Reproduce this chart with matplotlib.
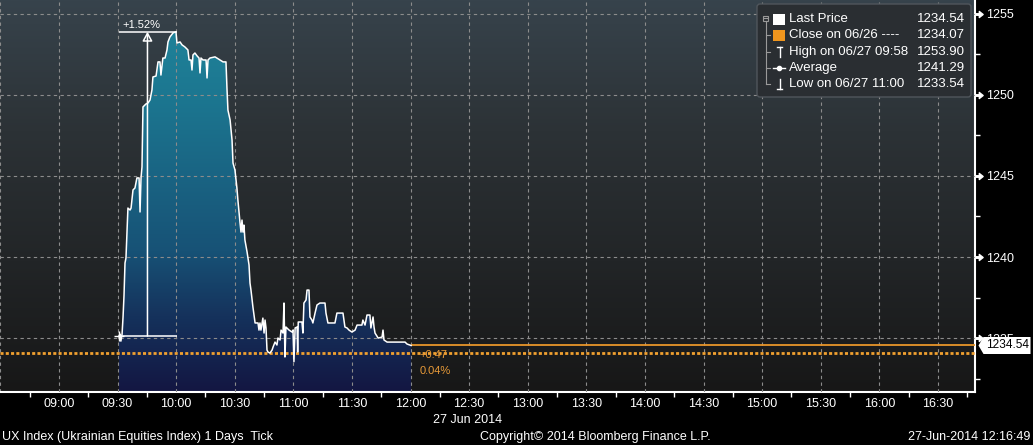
import numpy as np
import matplotlib
matplotlib.use('Agg')
import matplotlib.pyplot as plt
from matplotlib.colors import LinearSegmentedColormap
from matplotlib.patches import PathPatch, FancyBboxPatch, Rectangle
from matplotlib.path import Path
from matplotlib.markers import MarkerStyle
import matplotlib.transforms as mtransforms

plt.rcParams['font.family'] = ['Liberation Sans', 'DejaVu Sans']

# ---------------- data ----------------
# minutes after 09:00 on 27 Jun 2014
times_min = [30.7, 31.2, 31.7, 32.3, 32.8, 33.3, 33.8, 34.3, 35.3, 36.4, 36.9, 37.9, 38.9, 39.9,
             41.0, 41.5, 42.0, 42.5, 43.0, 44.5, 45.6, 46.6, 47.6, 48.1, 49.7, 50.7, 51.7, 52.2,
             52.7, 53.2, 54.3, 55.3, 55.8, 56.8, 58.4, 59.9, 60.4, 62.0, 63.0, 64.5, 66.0, 66.6,
             67.6, 68.1, 68.6, 69.6, 70.7, 71.7, 72.2, 72.7, 73.7, 75.3, 75.8, 76.3, 77.3, 79.9,
             82.4, 84.0, 85.5, 86.0, 86.5, 87.6, 88.6, 89.1, 90.1, 91.1, 91.6, 92.7, 93.2, 93.7,
             94.2, 94.7, 95.2, 96.3, 97.3, 97.8, 98.3, 99.3, 100.4, 101.9, 102.4, 102.9, 103.4,
             104.4, 105.0, 105.5, 106.0, 106.5, 107.0, 108.0, 109.1, 109.6, 110.6, 111.6, 112.1,
             113.2, 113.7, 114.7, 115.2, 115.7, 116.2, 117.8, 119.3, 119.8, 120.3, 120.9, 121.9,
             122.2, 122.5, 124.4, 124.9, 125.4, 126.5, 127.0, 128.0, 128.5, 129.5, 130.0, 131.1,
             132.1, 133.6, 136.2, 136.7, 137.7, 141.3, 142.3, 145.4, 146.4, 147.5, 148.5, 150.0,
             151.6, 152.6, 155.1, 155.6, 156.7, 157.7, 159.2, 159.7, 160.8, 161.3, 161.8, 163.4,
             165.4, 165.9, 166.4, 168.0, 177.2, 178.2, 180.3]
prices = [1235.12, 1235.25, 1234.81, 1235.25, 1236.30, 1237.65, 1239.63, 1239.94, 1243.02, 1242.90,
          1243.02, 1244.14, 1244.26, 1244.88, 1244.88, 1242.78, 1244.88, 1245.56, 1249.26, 1249.44,
          1249.51, 1249.69, 1250.31, 1251.11, 1251.17, 1252.04, 1252.04, 1251.23, 1251.73, 1252.28,
          1252.28, 1252.78, 1253.27, 1253.58, 1253.83, 1253.90, 1253.21, 1253.27, 1253.09, 1252.96,
          1252.78, 1252.16, 1252.16, 1251.54, 1252.47, 1252.59, 1252.41, 1252.28, 1251.36, 1252.28,
          1252.16, 1252.16, 1251.05, 1252.16, 1252.28, 1252.35, 1252.16, 1252.04, 1252.04, 1250.43,
          1249.07, 1248.46, 1247.22, 1245.80, 1245.37, 1244.26, 1243.52, 1242.10, 1241.54, 1242.28,
          1241.54, 1241.97, 1241.05, 1240.31, 1239.51, 1238.39, 1237.96, 1236.91, 1235.93, 1235.93,
          1235.49, 1235.93, 1235.49, 1236.23, 1235.31, 1236.11, 1235.62, 1234.26, 1234.14, 1234.07,
          1234.26, 1234.44, 1234.75, 1234.57, 1235.00, 1234.88, 1235.49, 1235.31, 1237.16, 1233.83,
          1235.68, 1235.49, 1235.37, 1235.49, 1233.54, 1235.62, 1235.68, 1234.14, 1235.99, 1235.99,
          1235.31, 1237.16, 1237.35, 1237.96, 1237.96, 1236.30, 1236.11, 1235.93, 1236.54, 1237.04,
          1237.16, 1237.16, 1236.54, 1235.93, 1235.93, 1236.54, 1236.54, 1235.68, 1235.62, 1235.49,
          1235.37, 1235.49, 1235.80, 1235.80, 1236.11, 1235.80, 1236.42, 1236.42, 1235.62, 1236.30,
          1235.68, 1235.31, 1235.00, 1235.06, 1235.49, 1234.88, 1234.75, 1234.75, 1234.63, 1234.54]

close_price = 1234.07
last_price = 1234.54
high_price = 1253.90
low_price = 1233.54
avg_price = 1241.29

x_tick_minutes = list(range(0, 451, 30))
x_tick_labels = ['09:00', '09:30', '10:00', '10:30', '11:00', '11:30', '12:00', '12:30',
                 '13:00', '13:30', '14:00', '14:30', '15:00', '15:30', '16:00', '16:30']
x_minor_minutes = list(range(-15, 466, 30))
y_ticks = [1235, 1240, 1245, 1250, 1255]
y_minor = [1232.5, 1237.5, 1242.5, 1247.5, 1252.5]

legend_labels = ['Last Price', 'Close on 06/26 ----', 'High on 06/27 09:58', 'Average', 'Low on 06/27 11:00']
legend_values = [last_price, close_price, high_price, avg_price, low_price]

# ---------------- figure ----------------
W, H = 1033, 445
fig = plt.figure(figsize=(W / 100, H / 100), dpi=100, facecolor='black')
ax = fig.add_axes([0, 53 / H, 975 / W, 392 / H])
ax.set_facecolor('black')
x_min, x_max = -30.2, 469.0
y_min, y_max = 1231.67, 1255.86

# background gradient
bg_cmap = LinearSegmentedColormap.from_list('bg', ['#171717', '#222527', '#2c3236', '#37434c'])
ax.imshow(np.linspace(0, 1, 256).reshape(-1, 1), cmap=bg_cmap, extent=[0, 1, 0, 1],
          transform=ax.transAxes, aspect='auto', origin='lower', zorder=0)

# gradient fill under price
fb = ax.fill_between(times_min, prices, y_min, facecolor='none', edgecolor='none', zorder=1)
clip = PathPatch(fb.get_paths()[0], transform=ax.transData, facecolor='none', edgecolor='none')
ax.add_patch(clip)
fill_cmap = LinearSegmentedColormap.from_list(
    'fill', [(0, '#131642'), (0.21, '#15325c'), (0.39, '#175276'), (0.81, '#1c7690'), (1, '#1f8299')])
im = ax.imshow(np.linspace(0, 1, 256).reshape(-1, 1), cmap=fill_cmap,
               extent=[times_min[0], times_min[-1], y_min, max(prices)],
               aspect='auto', origin='lower', zorder=1)
im.set_clip_path(clip)

# close (dotted) and last price lines
ax.axhline(close_price, color='#f0a030', lw=2, linestyle=(0, (1.1, 0.8)), zorder=2.8)
ax.hlines(last_price, times_min[-1], x_max, color='#e8952a', lw=1.3, zorder=2.8)

# price line
ax.plot(times_min, prices, color='white', lw=1.1, zorder=3)
ax.plot([times_min[0]], [prices[0]], marker='+', color='white', ms=7, mew=1, zorder=3)

# +x% annotation
peak_i = int(np.argmax(prices))
t0, p0 = times_min[0], prices[0]
tp, pp = times_min[peak_i], prices[peak_i]
ax.hlines([p0, pp], t0, tp + 0.6, color='white', lw=1.1, zorder=3.5)
tmid = (t0 + tp) / 2
ax.annotate('', xy=(tmid, pp), xytext=(tmid, p0),
            arrowprops=dict(arrowstyle='-|>,head_length=0.55,head_width=0.3', fc='none', ec='white',
                            lw=1.1, shrinkA=0, shrinkB=0), zorder=3.5)
ax.annotate(f'+{(pp - p0) / p0 * 100:.2f}%', xy=(t0, pp), xytext=(3, 7), textcoords='offset pixels',
            ha='left', va='center', color='white', fontsize=8, zorder=4)

# change labels
chg = last_price - close_price
ax.annotate(f'+{chg:.2f}', xy=(times_min[-1], last_price), xytext=(8, -10), textcoords='offset pixels',
            ha='left', va='center', color='#e89a38', fontsize=8, zorder=4)
ax.annotate(f'{chg / close_price * 100:.2f}%', xy=(times_min[-1], last_price), xytext=(8, -26),
            textcoords='offset pixels', ha='left', va='center', color='#e89a38', fontsize=8, zorder=4)

# axes, ticks, grid
ax.set_xlim(x_min, x_max)
ax.set_ylim(y_min, y_max)
ax.set_xticks(x_tick_minutes)
ax.set_xticklabels(x_tick_labels)
ax.set_xticks(x_minor_minutes, minor=True)
ax.yaxis.tick_right()
ax.set_yticks(y_ticks)
ax.set_yticks(y_minor, minor=True)
ax.set_axisbelow(False)
ax.grid(which='major', color='#8c8c8c', linestyle=(0, (3, 3)), linewidth=0.8)
ax.axvline(-30, color='#8c8c8c', linestyle=(0, (3, 3)), linewidth=0.8, zorder=2.5)
ax.tick_params(axis='x', which='major', length=0, pad=4, labelcolor='white', labelsize=9)
ax.tick_params(axis='x', which='minor', length=3.5, width=1, color='white', direction='out')
ax.tick_params(axis='y', which='major', length=0, pad=8, labelcolor='white', labelsize=9)
ax.tick_params(axis='y', which='minor', length=3.5, width=1, color='white', direction='out')
for s in ['top', 'left']:
    ax.spines[s].set_visible(False)
for s in ['right', 'bottom']:
    ax.spines[s].set_color('white')
    ax.spines[s].set_linewidth(1.5)

ytrans = mtransforms.blended_transform_factory(ax.transAxes, ax.transData)
tick_marker = MarkerStyle(Path([(0, -0.1), (0.5, -0.1), (0.5, -0.4), (1, 0), (0.5, 0.4), (0.5, 0.1),
                                (0, 0.1), (0, -0.1)], closed=True))
ax.plot([1] * len(y_ticks), y_ticks, transform=ytrans, linestyle='none', marker=tick_marker, ms=11,
        color='white', mec='white', clip_on=False, zorder=5)

# last price tag
tag = MarkerStyle(Path([(0, 0), (5, 8.5), (52, 8.5), (52, -8.5), (5, -8.5), (0, 0)], closed=True))
ax.plot([1], [last_price], transform=mtransforms.offset_copy(ytrans, fig=fig, x=3, units='dots'),
        linestyle='none', marker=tag, ms=74.9, color='white', mec='white', mew=0, clip_on=False, zorder=6)
ax.text(1, last_price, f'{last_price:.2f}', transform=mtransforms.offset_copy(ytrans, fig=fig, x=11, units='dots'),
        ha='left', va='center', color='black', fontsize=8.6, clip_on=False, zorder=7)

# legend box
lg = fig.add_axes([756 / W, 1 - 98 / H, 216 / W, 95 / H])
lg.set_xlim(0, 216)
lg.set_ylim(95, 0)
lg.axis('off')
lg.add_patch(FancyBboxPatch((1, 1), 214, 93, boxstyle='round,pad=0,rounding_size=3',
                            fc='#2a2e32', ec='#50565c', lw=1))
row_y = [16, 32, 49, 65, 81]
for lab, val, yy in zip(legend_labels, legend_values, row_y):
    lg.text(33.3, yy, lab, color='white', fontsize=9.5, va='center', ha='left')
    lg.text(209, yy, f'{val:.2f}', color='white', fontsize=9.5, va='center', ha='right')
tree_c = '#9a9a9a'
lg.add_patch(Rectangle((7.3, 12.5), 5, 5, fc='none', ec=tree_c, lw=0.8))
lg.plot([8.3, 11.3], [15, 15], color=tree_c, lw=0.8)
lg.plot([9.8, 9.8], [17.5, row_y[-1]], color=tree_c, lw=0.8)
for yy in row_y[1:]:
    lg.plot([9.8, 14], [yy, yy], color=tree_c, lw=0.8)
lg.add_patch(Rectangle((17.3, row_y[0] - 5.5), 11.7, 11, fc='white', ec='none'))
lg.add_patch(Rectangle((17.3, row_y[1] - 5.5), 11.7, 11, fc='#f0961e', ec='none'))
lg.plot([20.7, 26.3], [row_y[2] - 5, row_y[2] - 5], color='white', lw=1)
lg.plot([23.5, 23.5], [row_y[2] - 5, row_y[2] + 5], color='white', lw=1)
lg.plot([17.3, 29], [row_y[3], row_y[3]], color='white', lw=1)
lg.plot([23.1], [row_y[3]], marker='o', ms=3, color='white')
lg.plot([23.5, 23.5], [row_y[4] - 5, row_y[4] + 5], color='white', lw=1)
lg.plot([20.7, 26.3], [row_y[4] + 5, row_y[4] + 5], color='white', lw=1)

# footer texts
fig.text(468 / W, 1 - 420 / H, '27 Jun 2014', color='white', fontsize=9, ha='center', va='center')
fig.text(2 / W, 1 - 437 / H, 'UX Index (Ukrainian Equities Index) 1 Days  Tick', color='white',
         fontsize=9, ha='left', va='center')
fig.text(595 / W, 1 - 437 / H, 'Copyright\u00a9 2014 Bloomberg Finance L.P.', color='white',
         fontsize=9, ha='center', va='center')
fig.text(1030 / W, 1 - 437 / H, '27-Jun-2014 12:16:49', color='white', fontsize=9, ha='right', va='center')

fig.savefig('out.png', dpi=100, facecolor='black')
